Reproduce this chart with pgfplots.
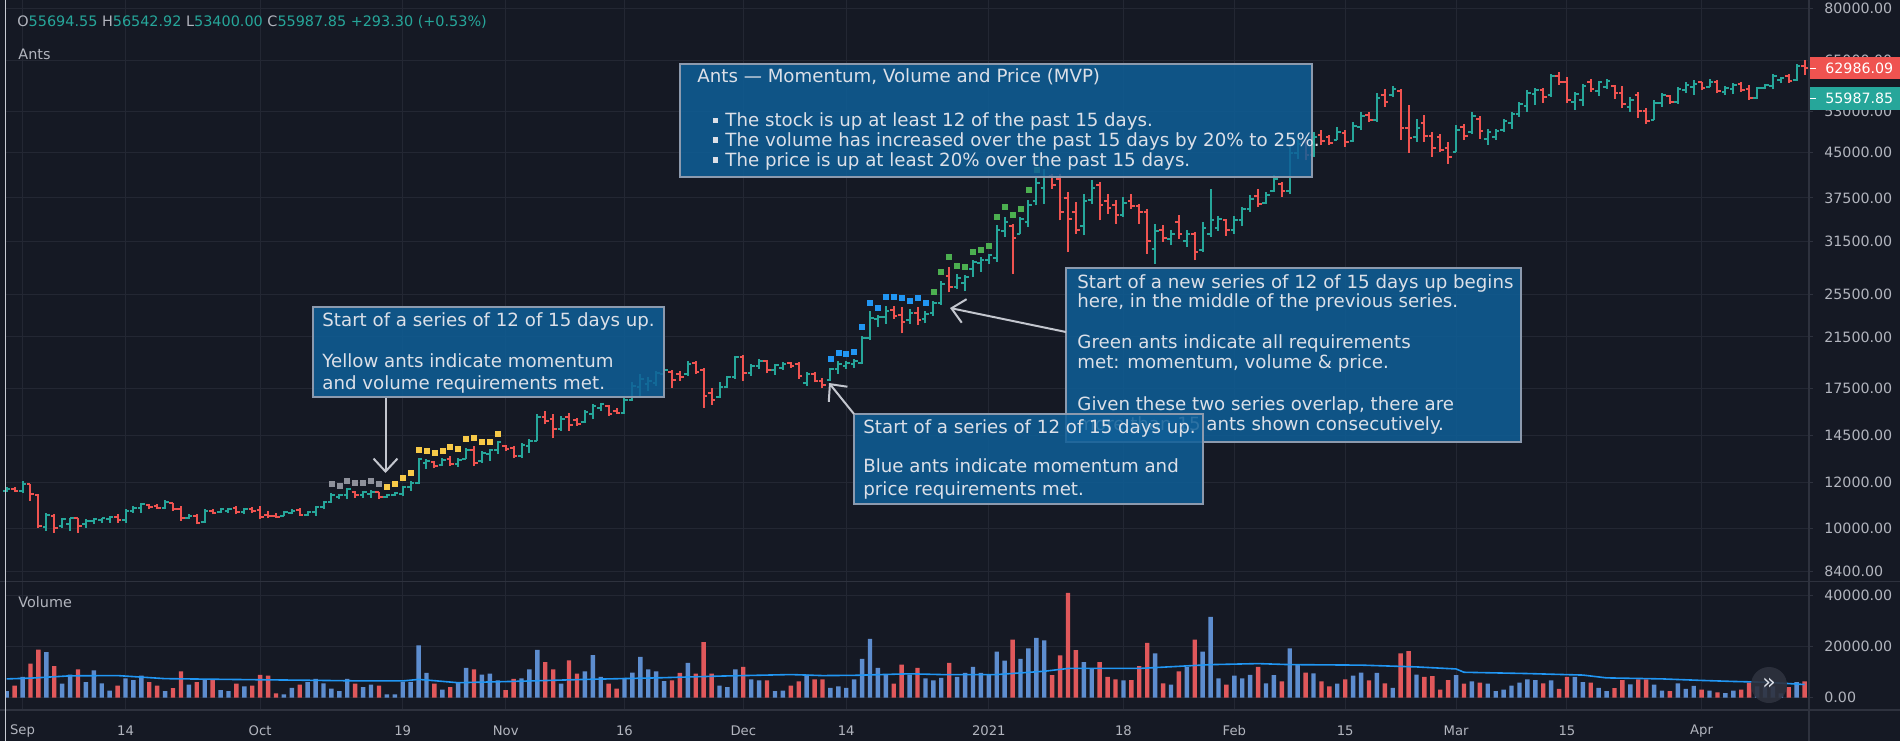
\documentclass[border=0pt]{standalone}
\usepackage{pgfplots}
\pgfplotsset{compat=1.18}
\usepackage{pgfplotstable}
\usepackage{fontspec}
\setmainfont{DejaVu Sans}
\usetikzlibrary{arrows.meta}

\definecolor{bg}{HTML}{151924}
\definecolor{gridc}{HTML}{232733}
\definecolor{sepc}{HTML}{2E323E}
\definecolor{upc}{HTML}{26A69A}
\definecolor{dnc}{HTML}{EF5350}
\definecolor{vup}{HTML}{5D8DCF}
\definecolor{vdn}{HTML}{E0585B}
\definecolor{mac}{HTML}{2196F3}
\definecolor{txt}{HTML}{B2B5BE}
\definecolor{antgrey}{HTML}{8E919B}
\definecolor{antyellow}{HTML}{F7C948}
\definecolor{antblue}{HTML}{2196F3}
\definecolor{antgreen}{HTML}{4CAF50}
\definecolor{boxfill}{HTML}{0F5F98}
\definecolor{boxdraw}{HTML}{8C9AAE}
\definecolor{boxtxt}{HTML}{DCE0E8}
\definecolor{arrowc}{HTML}{C3C6CE}
\definecolor{leftc}{HTML}{C8CBD3}

\pgfdeclareplotmark{otick}{\pgfpathmoveto{\pgfqpoint{-1.8pt}{0pt}}\pgfpathlineto{\pgfqpoint{0pt}{0pt}}\pgfusepathqstroke}
\pgfdeclareplotmark{ctick}{\pgfpathmoveto{\pgfqpoint{0pt}{0pt}}\pgfpathlineto{\pgfqpoint{1.8pt}{0pt}}\pgfusepathqstroke}

\pgfplotstableread{
i o h l c v
0 11600 11780 11560 11700 2500
2 11600 12080 11530 11950 8100
5 10050 10640 9885 10550 17800
7 10100 10430 10020 10360 5400
8 10150 10430 9885 10400 9000
10 10150 10360 10020 10300 6000
11 10300 10430 10155 10380 10600
12 10350 10430 10220 10400 5500
13 10380 10500 10220 10450 2700
15 10350 10780 10220 10700 7500
16 10700 10930 10640 10850 6800
17 10850 11075 10640 11000 8600
20 10850 11180 10780 11100 2500
23 10400 10570 10360 10500 5100
25 10250 10780 10220 10700 7100
27 10650 10855 10640 10780 2900
28 10700 10855 10640 10800 2500
30 10650 10855 10570 10800 4400
35 10500 10710 10500 10650 1200
36 10620 10780 10570 10700 3800
38 10550 10710 10500 10680 6000
39 10650 10930 10500 10900 7300
40 10880 11150 10780 11100 5500
41 11100 11530 11075 11400 3500
42 11350 11450 11225 11400 2500
43 11400 11760 11225 11700 7300
45 11400 11605 11300 11550 4100
46 11450 11635 11300 11550 5100
48 11350 11450 11300 11420 1200
49 11420 11575 11375 11500 1200
50 11450 11840 11375 11800 6100
51 11800 12080 11605 12000 6100
52 12000 13265 11920 13200 20400
53 13000 13175 12660 13100 9700
55 12900 13230 12830 13150 3100
57 12950 13265 12780 13150 5800
58 13200 13810 13175 13700 11600
60 13100 13630 13000 13500 9000
61 13450 13720 13090 13650 9400
62 13650 14180 13450 14100 6700
65 13350 14079 13255 13950 7500
66 13900 14269 13526 14150 11000
67 14200 15774 14172 15600 18700
70 14900 15670 14754 15500 5400
73 15300 16052 15256 15900 10300
74 15800 16422 15461 16300 16600
75 16200 16530 15988 16450 8100
78 15850 16867 15820 16700 7700
79 16700 17914 16640 17700 9800
80 17600 18524 16980 18200 15900
81 17800 18278 17323 18000 11000
82 17900 18773 17676 18600 10300
83 18500 18899 18401 18800 6400
86 18500 19490 18401 19300 13600
90 16900 17914 16867 17600 4700
91 17600 18401 17557 18300 4100
92 18300 19937 18155 19800 11000
94 18600 19283 18401 19100 7100
95 19100 19673 18899 19500 6700
97 18800 19283 18476 19200 2500
98 19000 19413 18824 19300 2700
101 17900 18649 17676 18500 9000
104 18100 19020 18020 18900 3800
105 18900 19540 18560 19300 4400
106 19100 19540 18890 19350 3800
107 19300 19670 19020 19500 7100
108 19400 21600 19270 21400 15200
109 21400 23875 21230 23200 23000
110 23100 23430 22330 23300 11600
111 23300 24360 22630 23800 9000
114 23000 24040 22630 23700 9000
116 23100 23875 22690 23600 7500
117 23700 24860 23400 24600 6700
118 24600 26940 24460 26600 7700
120 26300 27670 26050 27200 8100
121 26700 27500 25810 27300 9700
122 28200 29200 27300 29000 12000
123 28900 29580 27850 29300 9700
124 29300 29930 28800 29800 8900
125 29500 33600 29000 33000 18000
126 32800 34740 32060 34000 14500
128 32500 34770 32490 34500 15200
129 34000 37140 33370 36500 19300
130 37000 40790 36400 39800 23400
131 39000 42170 36650 40800 22400
136 33500 38150 32270 37000 13900
137 37200 40250 36650 39000 11200
141 35000 37640 34740 36800 6700
145 30500 33820 28800 32800 17300
147 31800 32930 31000 32500 5100
149 31500 32930 30800 32400 11900
151 30400 34050 30180 33300 18000
152 32500 38920 32060 34300 31600
153 33200 34940 32890 34500 7500
155 33000 34940 32460 34300 8600
156 34300 36130 33560 35800 7500
157 35800 37860 35410 37300 8900
159 36700 38370 36610 38000 5500
160 38500 41030 38370 40500 8800
162 38500 45980 38120 44800 19300
163 44800 47540 43870 46500 12900
165 44500 48830 44160 47800 9500
168 47300 49820 47220 48800 5400
170 47000 50830 46910 50000 8600
171 49800 52910 49150 52000 9800
173 51200 56960 50830 55900 9700
175 56500 58700 56200 58000 3800
178 47800 51510 46910 49500 9000
183 45100 50150 45060 49200 8800
185 48800 52910 48510 52000 6300
187 47500 49480 46290 48800 5400
188 47900 49480 47220 49000 2500
189 49200 51510 48830 51000 3100
190 50500 52910 49480 52500 4700
191 52500 55080 51860 54500 5800
192 54200 57720 52910 57000 7100
193 56800 58270 54350 57800 6800
195 56500 61630 56200 61000 6700
198 55000 57340 53260 56800 8100
199 55500 59130 54130 58600 6000
201 57500 59930 56350 59500 3800
202 58500 60240 57950 59800 2500
205 54000 56040 52900 55500 5200
208 51300 55440 51160 54800 5100
209 54800 57100 53980 56500 2700
211 55000 58490 54700 58000 5500
212 57800 59680 56950 59000 3400
213 58500 60080 56560 59200 4600
215 58500 60240 58490 59600 2700
217 57300 58650 56560 58300 1700
218 58000 59440 56790 59000 2700
221 56000 58490 55590 58200 4400
222 58200 59120 57870 58800 4200
223 58600 61540 57870 61000 4400
224 60000 60720 59280 60500 1600
226 60000 64050 59910 63500 6000
}\up

\pgfplotstableread{
i o h l c v
1 11700 11780 11575 11620 4700
3 11930 11950 11150 11450 13300
4 11400 11450 10020 10100 18800
6 10500 10570 9820 10000 12300
9 10400 10430 9820 10100 11000
14 10450 10570 10220 10350 4700
18 10980 11000 10780 10900 6000
19 10950 11030 10780 10850 4700
21 11050 11075 10710 10800 3700
22 10800 10930 10290 10400 10300
24 10480 10570 10155 10200 6000
26 10700 10780 10570 10620 6800
29 10850 10930 10570 10650 5400
31 10800 10885 10640 10700 4700
32 10750 10930 10360 10450 8900
33 10550 10710 10400 10480 8600
34 10520 10640 10430 10470 1600
37 10750 10825 10500 10550 5100
44 11550 11605 11300 11400 5400
47 11550 11575 11225 11350 4700
54 13050 13090 12710 12850 5400
56 13200 13350 12830 12950 4100
59 13700 13900 12830 13000 11000
63 13900 13949 13614 13750 2900
64 13800 13892 13224 13350 7300
68 15600 15988 15155 15350 13900
69 15500 15774 14324 14900 11000
71 15600 15882 14754 15100 14600
72 15400 15527 15053 15200 9400
76 16300 16373 15670 15800 5400
77 16000 16160 15774 15850 3500
84 18700 18824 17557 18100 6700
85 18500 18773 18033 18300 9700
87 19400 19490 18524 18700 9400
88 18800 18974 16202 17000 21700
89 17200 17557 16373 16700 9400
93 19800 20017 18033 18600 12000
96 19500 19594 18575 18800 6700
99 19350 19413 18974 19100 4700
100 19300 19413 18155 18400 6300
102 18500 18649 17914 18050 7100
103 18050 18265 17500 17750 7100
112 23900 24360 23090 23400 5400
113 23500 24200 21800 22800 12900
115 23700 24260 22540 23000 11600
119 27400 28420 25700 26300 13600
127 33500 33820 27670 32000 22700
132 40900 41330 38920 39500 8800
133 40500 41330 34280 35500 16500
134 37500 38400 30180 34500 41000
135 35500 36890 32490 33000 18600
138 39500 39980 34280 36500 13900
139 37000 38150 35210 36000 8100
140 36500 37140 33820 35000 7100
142 37000 38150 35920 36300 6800
143 36300 36650 33820 35500 12300
144 35500 35920 29980 31500 21400
146 33000 33600 31420 32000 5500
148 34000 34970 31850 32500 10300
150 32500 32710 29190 30200 22700
154 34300 34470 32240 33000 5100
158 37800 38890 36130 36600 12000
161 39600 39950 37610 38500 6300
164 46800 47540 43580 44500 9800
166 48300 49150 46290 47000 6300
167 47800 48180 46290 46700 4400
169 48600 49150 45980 46800 7100
172 52300 52910 50830 51200 6700
174 56500 57880 53990 55000 5500
176 57500 57880 47220 49500 17300
177 49500 54350 44880 47700 18200
179 50500 52200 46910 48000 8100
180 48000 48830 44160 45800 8400
181 47800 48510 45060 45500 3100
182 45800 46910 43000 44200 6800
184 49800 50490 47220 48000 5400
186 51500 52000 47540 49000 5800
194 57800 58270 54860 56200 5500
196 61000 62130 58890 59500 3400
197 59500 60880 54720 55500 8100
200 59500 60240 57340 58000 5800
203 58700 58890 55670 57000 3700
204 57000 58650 53620 54500 6800
206 56500 57330 51710 53000 7100
207 53000 53620 50480 51000 7100
210 56300 56560 54550 55000 2500
214 59500 59680 57710 58200 3100
216 59500 60080 56950 57500 2000
219 59200 59680 57330 57800 3100
220 58000 58890 55440 56000 5800
225 61000 61540 59440 59800 4100
227 63500 65090 61290 62986.09 6300
}\dn

\pgfplotstableread{
i y
41 11920
42 11840
43 12110
44 12000
45 12000
46 12080
47 11920
}\antgrey

\pgfplotstableread{
i y
48 11795
49 11920
50 12245
51 12490
52 13680
53 13630
54 13500
55 13630
56 13850
57 13720
58 14280
59 14380
60 14150
61 14150
62 14570
}\antyellow

\pgfplotstableread{
i y
104 19670
105 20140
106 20060
107 20280
108 22390
109 24690
110 24200
111 25190
112 25190
113 25090
114 24790
115 25090
116 24690
}\antblue

\pgfplotstableread{
i y
117 25740
118 27850
119 29580
120 28610
121 28500
122 30180
123 30510
124 30920
125 34740
126 36160
127 35040
128 35920
129 38660
130 41890
}\antgreen

\pgfplotstableread{
i v
0 7300
3 7600
8 8500
14 8600
17 8000
20 7400
28 7100
37 6800
45 6500
50 6500
52 7100
54 6600
57 5800
65 6400
73 7100
82 7700
90 8400
99 9000
103 8600
107 8700
114 9300
118 9000
125 9000
131 10300
134 11400
143 11400
152 12900
158 13300
162 12900
171 12700
178 12000
183 11200
184 9900
192 9400
199 8800
202 7700
209 7300
214 6700
218 6300
222 6000
227 5100
}\ma

\pgfplotsset{
  tvaxis/.style={
    scale only axis, width=901.5pt,
    xmin=-0.09, xmax=227.56,
    axis line style={draw=none},
    xtick={2,15,32,50,63,78,93,106,124,141,155,169,183,197,214},
    xtick style={draw=none},
    grid=major, major grid style={draw=gridc, line width=0.5pt},
    minor tick style={draw=none},
    yticklabel pos=right, ytick pos=right,
    tick align=outside, major tick length=2pt,
    ytick style={draw=sepc, line width=0.5pt},
    scaled y ticks=false,
    yticklabel style={font=\fontsize{7.1}{8}\selectfont, text=txt, anchor=west, inner sep=0pt, xshift=5.5pt},
    xticklabel style={font=\fontsize{6.6}{8}\selectfont, text=txt, anchor=center, inner sep=0pt, yshift=-8.5pt},
  },
  hlbar/.style={only marks, mark=*, mark size=0pt, mark options={draw=none, fill=none}, forget plot,
    error bars/.cd, y dir=plus, y explicit, error mark=none,
    error bar style={line width=1pt, draw=#1}},
  antmark/.style={only marks, mark=square*, mark size=1.25pt, mark options={draw=#1, fill=#1, line width=0.3pt}},
}

\begin{document}
\begin{tikzpicture}
\fill[bg] (0,0) rectangle (950pt,370.5pt);

% price pane
\begin{axis}[tvaxis, at={(3pt,79.5pt)}, anchor=south west, height=291pt,
  ymode=log, ymin=8064, ymax=82770,
  xticklabels={},
  ytick={8400,10000,12000,14500,17500,21500,25500,31500,37500,45000,53000,65000,80000},
  yticklabels={8400.00,10000.00,12000.00,14500.00,17500.00,21500.00,25500.00,31500.00,37500.00,45000.00,53000.00,65000.00,80000.00},
]
\addplot[hlbar=upc] table[x=i, y=l, y error expr=\thisrow{h}-\thisrow{l}] {\up};
\addplot[hlbar=dnc] table[x=i, y=l, y error expr=\thisrow{h}-\thisrow{l}] {\dn};
\addplot[only marks, mark=otick, mark options={draw=upc, line width=1pt}, forget plot] table[x=i, y=o] {\up};
\addplot[only marks, mark=ctick, mark options={draw=upc, line width=1pt}, forget plot] table[x=i, y=c] {\up};
\addplot[only marks, mark=otick, mark options={draw=dnc, line width=1pt}, forget plot] table[x=i, y=o] {\dn};
\addplot[only marks, mark=ctick, mark options={draw=dnc, line width=1pt}, forget plot] table[x=i, y=c] {\dn};
\addplot[antmark=antgrey] table[x=i, y=y] {\antgrey};
\addplot[antmark=antyellow] table[x=i, y=y] {\antyellow};
\addplot[antmark=antblue] table[x=i, y=y] {\antblue};
\addplot[antmark=antgreen] table[x=i, y=y] {\antgreen};
\end{axis}

% volume pane
\begin{axis}[tvaxis, at={(3pt,15.5pt)}, anchor=south west, height=64pt,
  ymin=-4900, ymax=45300,
  xticklabels={Sep,14,Oct,19,Nov,16,Dec,14,2021,18,Feb,15,Mar,15,Apr},
  ytick={0,20000,40000},
  yticklabels={0.00,20000.00,40000.00},
]
\addplot[ybar, bar width=2.2pt, bar shift=0pt, fill=vup, draw=none] table[x=i, y=v] {\up};
\addplot[ybar, bar width=2.2pt, bar shift=0pt, fill=vdn, draw=none] table[x=i, y=v] {\dn};
\addplot[mac, line width=0.8pt] table[x=i, y=v] {\ma};
\end{axis}

\begin{scope}[x=0.5pt, y=-0.5pt, yshift=370.5pt]
% frame lines
\draw[sepc, line width=0.6pt] (0,581.5) -- (1900,581.5);
\draw[sepc, line width=0.6pt] (0,710) -- (1900,710);
\draw[sepc, line width=0.6pt] (1809,0) -- (1809,741);
\draw[leftc, line width=0.7pt] (5.5,0) -- (5.5,741);

% header
\node[anchor=west, inner sep=0pt, font=\fontsize{7.2}{8}\selectfont] at (17,22)
  {\textcolor{txt}{O}\textcolor{upc}{55694.55} \textcolor{txt}{H}\textcolor{upc}{56542.92} \textcolor{txt}{L}\textcolor{upc}{53400.00} \textcolor{txt}{C}\textcolor{upc}{55987.85 +293.30 (+0.53\%)}};
\node[anchor=west, inner sep=0pt, font=\fontsize{7.2}{8}\selectfont, text=txt] at (18,54.5) {Ants};
\node[anchor=west, inner sep=0pt, font=\fontsize{7.2}{8}\selectfont, text=txt] at (18,602) {Volume};

% price labels
\fill[dnc] (1810,57) rectangle (1900,79.5);
\draw[white, line width=0.6pt] (1810,68.3) -- (1816,68.3);
\node[anchor=west, inner sep=0pt, font=\fontsize{7.1}{8}\selectfont, text=white] at (1825,68.3) {62986.09};
\fill[upc] (1810,87) rectangle (1900,109.5);
\draw[white, line width=0.6pt] (1810,98.2) -- (1816,98.2);
\node[anchor=west, inner sep=0pt, font=\fontsize{7.1}{8}\selectfont, text=white] at (1825,98.2) {55987.85};

% scroll button
\fill[sepc, opacity=0.9] (1769,685) circle (18);
\node[font=\fontsize{11}{12}\selectfont, text=boxtxt] at (1769,684) {»};

% annotation boxes
\tikzset{annbox/.style={fill=boxfill, fill opacity=0.85, draw=boxdraw, line width=0.75pt},
  anntxt/.style={anchor=base west, inner sep=0pt, font=\fontsize{9.1}{11}\selectfont, text=boxtxt},
  bul/.style={fill=boxtxt},
  annarrow/.style={draw=arrowc, line width=1pt, -{Straight Barb[length=6.5pt,width=12pt]}}}

\draw[annbox] (680,64) rectangle (1312,177);
\node[anntxt] at (697,82.5) {Ants — Momentum, Volume and Price (MVP)};
\fill[bul] (712.5,117.5) rectangle (718,123);
\node[anntxt] at (725,126.5) {The stock is up at least 12 of the past 15 days.};
\fill[bul] (712.5,137) rectangle (718,142.5);
\node[anntxt] at (725,146) {The volume has increased over the past 15 days by 20\% to 25\%.};
\fill[bul] (712.5,157) rectangle (718,162.5);
\node[anntxt] at (725,166) {The price is up at least 20\% over the past 15 days.};

\draw[annbox] (313,307) rectangle (664,397);
\node[anntxt] at (322,326) {Start of a series of 12 of 15 days up.};
\node[anntxt] at (322,367) {Yellow ants indicate momentum};
\node[anntxt] at (322,389) {and volume requirements met.};
\draw[annarrow] (385.5,398) -- (385.5,473);

\draw[annbox] (1066,268) rectangle (1521,442);
\node[anntxt] at (1077,288) {Start of a new series of 12 of 15 days up begins};
\node[anntxt] at (1077,307) {here, in the middle of the previous series.};
\node[anntxt] at (1077,348) {Green ants indicate all requirements};
\node[anntxt] at (1077,368) {met: momentum, volume \& price.};
\node[anntxt] at (1077,410) {Given these two series overlap, there are};
\node[anntxt] at (1077,430) {more than 15 ants shown consecutively.};
\draw[annarrow] (1066,332) -- (950,308);

\draw[annbox] (854,414) rectangle (1203,504);
\node[anntxt] at (863,433.5) {Start of a series of 12 of 15 days up.};
\node[anntxt] at (863,472) {Blue ants indicate momentum and};
\node[anntxt] at (863,495) {price requirements met.};
\draw[annarrow] (854,414) -- (829,383);
\end{scope}

\pgfresetboundingbox
\path (0,0) rectangle (950pt,370.5pt);
\end{tikzpicture}
\end{document}
